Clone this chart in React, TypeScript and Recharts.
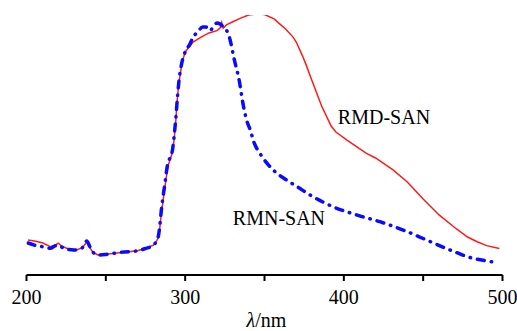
import React from 'react';
import { LineChart, Line, XAxis, YAxis, ReferenceDot } from 'recharts';

// RMD-SAN (red solid)
const rmdWavelength = [201,205,210,215,218,220,222,225,230,235,237,238,240,242,245,250,260,270,275,280,282,283,284,285,287,289,291,292,293,294,295,296,298,300,305,310,315,320,322,323,324,326,330,335,340,345,350,356,361,363,368,370,374,376,380,386,392,395,402,414,420,431,440,450,460,471,478,484,490,498];
const rmdAbsorbance = [0.135,0.131,0.124,0.109,0.115,0.122,0.112,0.104,0.093,0.104,0.119,0.124,0.104,0.087,0.077,0.080,0.087,0.093,0.103,0.115,0.131,0.142,0.181,0.238,0.327,0.415,0.454,0.473,0.519,0.585,0.673,0.738,0.815,0.858,0.896,0.915,0.931,0.940,0.950,0.971,0.950,0.962,0.974,0.988,1.000,1.004,1.002,0.985,0.958,0.948,0.915,0.896,0.842,0.812,0.746,0.650,0.573,0.550,0.519,0.469,0.450,0.404,0.358,0.292,0.231,0.177,0.146,0.128,0.113,0.102];

// RMN-SAN (blue dash-dot)
const rmnWavelength = [201,205,210,215,218,220,222,225,230,235,237,238,240,242,245,250,260,270,275,280,282,283,284,285,287,289,291,292,293,294,295,296,298,300,303,305,308,311,313,315.6,318,320,322,324,326,328,331,334,336.6,338.7,341,343.5,347,351.4,357.7,364,371,378.6,393,408,422.7,437.4,452,467,481.5,490,497];
const rmnAbsorbance = [0.123,0.115,0.109,0.103,0.112,0.115,0.108,0.100,0.096,0.104,0.123,0.131,0.108,0.087,0.077,0.079,0.088,0.093,0.102,0.115,0.131,0.146,0.188,0.250,0.342,0.427,0.458,0.481,0.531,0.596,0.673,0.742,0.819,0.858,0.888,0.915,0.935,0.954,0.954,0.940,0.958,0.969,0.965,0.954,0.942,0.912,0.827,0.750,0.654,0.596,0.558,0.508,0.469,0.431,0.392,0.365,0.338,0.308,0.263,0.231,0.205,0.173,0.135,0.096,0.064,0.054,0.048];

const xTicks = [200, 250, 300, 350, 400, 450, 500];
const xLabeledTicks = [200, 300, 400, 500];

const rmdData = rmdWavelength.map((x, i) => ({ x, y: rmdAbsorbance[i] }));
const rmnData = rmnWavelength.map((x, i) => ({ x, y: rmnAbsorbance[i] }));

const FONT = 'Liberation Serif';

const makeLabel = (text: string) => (props: any) => {
  const vb = props.viewBox || {};
  const cx = (vb.x ?? 0) + (vb.width ?? 0) / 2;
  const cy = (vb.y ?? 0) + (vb.height ?? 0) / 2;
  return (
    <text x={cx} y={cy} dy={7} textAnchor="middle" fontFamily={FONT} fontSize={20} fill="#000">
      {text}
    </text>
  );
};

const XLabel = (props: any) => {
  const vb = props.viewBox || {};
  const cx = (vb.x ?? 0) + (vb.width ?? 0) / 2 + 2;
  const y = (vb.y ?? 0) + (vb.height ?? 0) - 4;
  return (
    <text x={cx} y={y} textAnchor="middle" fontFamily={FONT} fontSize={20} fill="#000">
      <tspan fontStyle="italic">λ</tspan>
      <tspan>/nm</tspan>
    </text>
  );
};

const Tick = (props: any) => {
  const { x, y, payload } = props;
  const v = payload?.value;
  if (!xLabeledTicks.includes(v)) return null;
  return (
    <text x={x} y={y} dy={14} textAnchor="middle" fontFamily={FONT} fontSize={20} fill="#000">
      {String(v)}
    </text>
  );
};

export default function App() {
  return (
    <div style={{ position: 'absolute', left: 0, top: 0, width: 517, height: 331, background: '#fff' }}>
      <LineChart width={517} height={331} margin={{ top: 15, right: 14.5, bottom: 0, left: 26.5 }}>
        <XAxis
          type="number"
          dataKey="x"
          domain={[200, 500]}
          ticks={xTicks}
          interval={0}
          height={56}
          tickSize={6}
          tickMargin={9}
          axisLine={{ stroke: '#000', strokeWidth: 2 }}
          tickLine={{ stroke: '#000', strokeWidth: 2 }}
          tick={<Tick />}
          allowDataOverflow
          label={<XLabel />}
        />
        <YAxis type="number" domain={[0, 1]} hide allowDataOverflow />
        <Line
          data={rmdData}
          dataKey="y"
          type="linear"
          stroke="#ff1a1a"
          strokeWidth={1.5}
          dot={false}
          isAnimationActive={false}
        />
        <Line
          data={rmnData}
          dataKey="y"
          type="monotone"
          stroke="#0a0aff"
          strokeWidth={3.5}
          strokeDasharray="7 7 0.5 7"
          strokeLinecap="round"
          dot={false}
          isAnimationActive={false}
        />
        <ReferenceDot x={425.3} y={0.608} r={0} fill="none" stroke="none" label={makeLabel('RMD-SAN')} />
        <ReferenceDot x={359.1} y={0.219} r={0} fill="none" stroke="none" label={makeLabel('RMN-SAN')} />
      </LineChart>
    </div>
  );
}
